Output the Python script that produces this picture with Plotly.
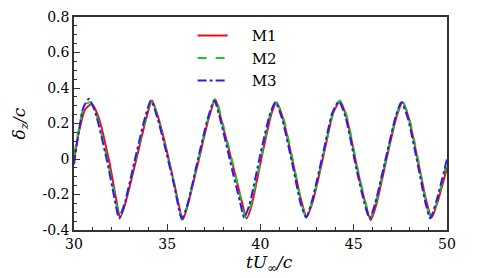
import plotly.graph_objects as go

t_m1 = [30.0, 30.3, 30.6, 30.95, 31.3, 31.9, 32.25, 32.47, 32.75, 33.3, 33.9, 34.18, 34.5, 34.9, 35.4, 35.84,
        36.1, 36.7, 37.2, 37.58, 37.9, 38.6, 39.0, 39.25, 39.5, 40.1, 40.6, 40.86, 41.2, 41.8, 42.2, 42.47,
        42.8, 43.4, 43.9, 44.26, 44.6, 45.2, 45.6, 45.91, 46.2, 46.8, 47.3, 47.62, 47.95, 48.5, 48.9, 49.18,
        49.5, 50.0]
y_m1 = [0.00, 0.17, 0.28, 0.31, 0.24, -0.02, -0.22, -0.33, -0.25, -0.02, 0.24, 0.33, 0.24, 0.08, -0.15, -0.34,
        -0.26, 0.00, 0.22, 0.335, 0.22, -0.07, -0.24, -0.335, -0.27, 0.03, 0.26, 0.32, 0.23, -0.05, -0.24, -0.325,
        -0.24, 0.03, 0.26, 0.325, 0.24, -0.06, -0.24, -0.344, -0.26, 0.02, 0.24, 0.32, 0.23, -0.04, -0.24, -0.33,
        -0.24, -0.05]

t_m2 = [30.0, 30.3, 30.55, 30.85, 31.2, 31.8, 32.2, 32.42, 32.7, 33.3, 33.9, 34.15, 34.45, 34.9, 35.4, 35.8,
        36.05, 36.7, 37.2, 37.6, 37.9, 38.6, 38.95, 39.2, 39.45, 40.1, 40.55, 40.85, 41.2, 41.8, 42.15, 42.42,
        42.75, 43.4, 43.9, 44.25, 44.6, 45.2, 45.6, 45.88, 46.15, 46.8, 47.3, 47.6, 47.95, 48.5, 48.85, 49.12,
        49.45, 50.0]
y_m2 = [0.02, 0.19, 0.30, 0.32, 0.25, -0.01, -0.21, -0.325, -0.25, 0.00, 0.25, 0.335, 0.25, 0.07, -0.15, -0.345,
        -0.27, 0.01, 0.23, 0.345, 0.23, -0.06, -0.23, -0.33, -0.27, 0.04, 0.26, 0.315, 0.24, -0.04, -0.23, -0.32,
        -0.25, 0.04, 0.26, 0.33, 0.25, -0.05, -0.23, -0.335, -0.26, 0.03, 0.25, 0.325, 0.24, -0.03, -0.23, -0.325,
        -0.25, -0.01]

t_m3 = [30.0, 30.25, 30.5, 30.8, 31.15, 31.75, 32.15, 32.42, 32.7, 33.25, 33.85, 34.12, 34.45, 34.85, 35.35, 35.78,
        36.05, 36.65, 37.15, 37.52, 37.85, 38.5, 38.9, 39.12, 39.4, 40.0, 40.5, 40.8, 41.15, 41.75, 42.15, 42.45,
        42.75, 43.35, 43.85, 44.2, 44.55, 45.15, 45.55, 45.85, 46.15, 46.75, 47.25, 47.55, 47.9, 48.45, 48.85, 49.1,
        49.45, 50.0]
y_m3 = [-0.03, 0.15, 0.29, 0.34, 0.26, 0.00, -0.21, -0.335, -0.26, -0.01, 0.25, 0.33, 0.24, 0.08, -0.14, -0.335,
        -0.27, 0.00, 0.22, 0.33, 0.22, -0.07, -0.24, -0.33, -0.26, 0.03, 0.25, 0.32, 0.23, -0.05, -0.25, -0.33,
        -0.24, 0.03, 0.26, 0.325, 0.24, -0.06, -0.24, -0.335, -0.25, 0.02, 0.24, 0.32, 0.23, -0.04, -0.25, -0.335,
        -0.23, 0.00]

x_ticks = [30, 35, 40, 45, 50]
y_ticks = [-0.4, -0.2, 0, 0.2, 0.4, 0.6, 0.8]
y_tick_labels = ["-0.4", "-0.2", "0", "0.2", "0.4", "0.6", "0.8"]

font_family = "DejaVu Serif"
pad = "\u00a0" * 4

fig = go.Figure()
fig.add_trace(go.Scatter(x=t_m1, y=y_m1, name=pad + "M1", mode="lines",
                         line=dict(color="#e8101a", width=2, shape="spline", smoothing=0.6)))
fig.add_trace(go.Scatter(x=t_m2, y=y_m2, name=pad + "M2", mode="lines",
                         line=dict(color="#1ec81e", width=2, dash="dash", shape="spline", smoothing=0.6)))
fig.add_trace(go.Scatter(x=t_m3, y=y_m3, name=pad + "M3", mode="lines",
                         line=dict(color="#2020f0", width=2, dash="dashdot", shape="spline", smoothing=0.6)))

fig.update_layout(
    width=498, height=278,
    margin=dict(l=74, r=51, t=17, b=48, autoexpand=False),
    paper_bgcolor="white", plot_bgcolor="white",
    font=dict(family=font_family, size=14, color="black"),
    showlegend=True,
    legend=dict(x=0.318, y=0.99, xanchor="left", yanchor="top",
                bgcolor="rgba(0,0,0,0)", font=dict(family=font_family, size=15),
                tracegroupgap=0, itemwidth=30),
    xaxis=dict(range=[30, 50], tickvals=x_ticks, ticks="inside", ticklen=6, tickcolor="#333",
               showgrid=False, zeroline=False, showline=True, linecolor="#333", linewidth=1.5, mirror=True,
               automargin=False,
               minor=dict(dtick=1, ticks="inside", ticklen=3, tickcolor="#333")),
    yaxis=dict(range=[-0.4, 0.8], tickvals=y_ticks, ticktext=y_tick_labels, ticks="inside", ticklen=6,
               tickcolor="#333", showgrid=False, zeroline=False, showline=True, linecolor="#333",
               linewidth=1.5, mirror=True, automargin=False,
               minor=dict(dtick=0.05, ticks="inside", ticklen=3, tickcolor="#333")),
    annotations=[
        dict(text="<i>tU</i><sub>∞</sub><i>/c</i>", x=0.525, y=0, xref="paper", yref="paper",
             xanchor="center", yanchor="top", yshift=-20, showarrow=False,
             font=dict(family=font_family, size=17)),
        dict(text="<i>δ<sub>z</sub>/c</i>", x=0, y=0.5, xref="paper", yref="paper",
             xanchor="center", yanchor="middle", xshift=-54, textangle=-90, showarrow=False,
             font=dict(family=font_family, size=17)),
    ],
)

fig.write_html("out.html", post_script="document.body.style.margin='0';",
               config={"displayModeBar": False})
